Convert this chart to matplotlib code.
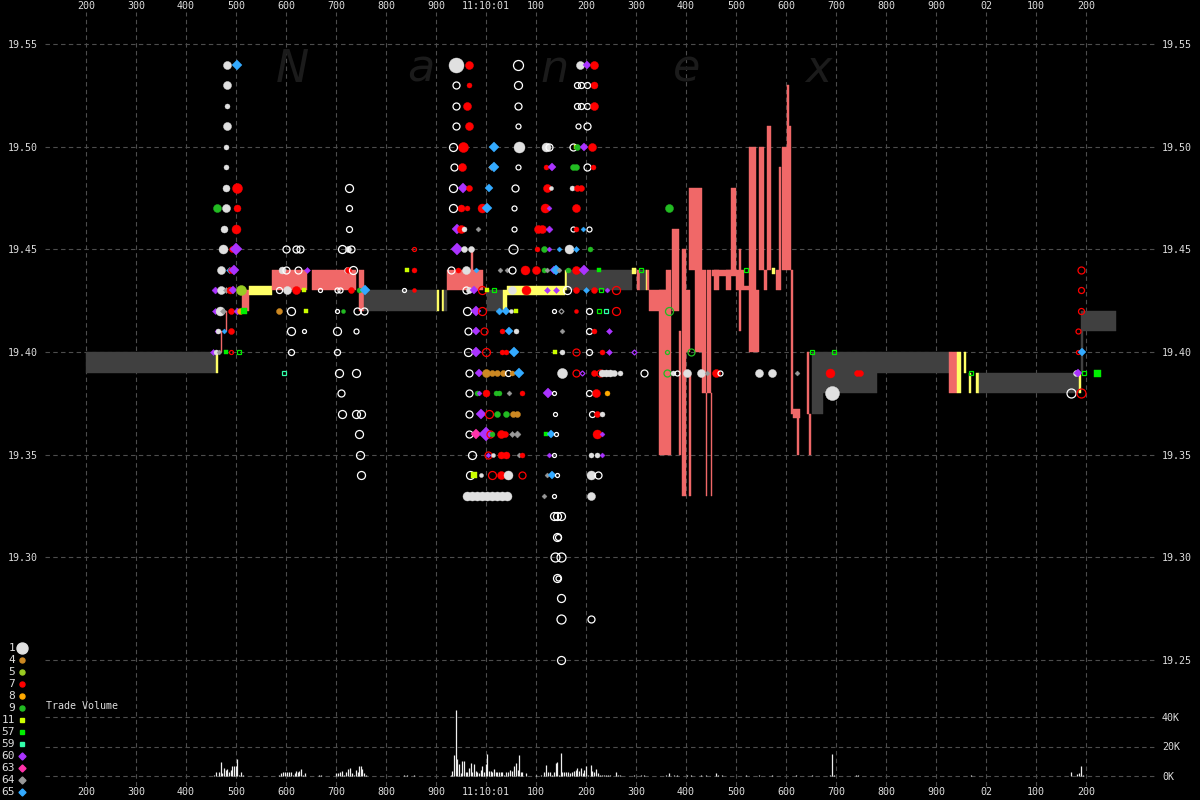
import matplotlib
matplotlib.use("Agg")
import matplotlib.pyplot as plt

# Tiempo en ms desde 11:10:00.000
x_ticks = list(range(200, 2300, 100))
x_labels = ['200', '300', '400', '500', '600', '700', '800', '900', '11:10:01',
            '100', '200', '300', '400', '500', '600', '700', '800', '900', '02',
            '100', '200']
price_ticks = [19.25, 19.30, 19.35, 19.40, 19.45, 19.50, 19.55]
vol_ticks = [0, 20000, 40000]
vol_labels = ['0K', '20K', '40K']
legend_codes = [1, 4, 5, 7, 8, 9, 11, 57, 59, 60, 63, 64, 65]

# Spread NBBO: (inicio ms, fin ms, precio bajo, precio alto, tipo) g=normal, r=cruzado, y=bloqueado
spread_segments = [
    (200, 460, 19.39, 19.40, 'g'), (460, 464, 19.39, 19.40, 'y'),
    (470, 472, 19.40, 19.41, 'r'), (480, 482, 19.41, 19.42, 'r'),
    (512, 526, 19.42, 19.43, 'r'), (526, 572, 19.428, 19.432, 'y'),
    (572, 642, 19.43, 19.44, 'r'), (652, 740, 19.43, 19.44, 'r'),
    (746, 756, 19.42, 19.44, 'r'), (756, 902, 19.42, 19.43, 'g'),
    (902, 906, 19.42, 19.43, 'y'), (912, 916, 19.42, 19.43, 'y'),
    (916, 922, 19.42, 19.43, 'g'), (922, 994, 19.43, 19.44, 'r'),
    (970, 974, 19.44, 19.449, 'r'), (1002, 1034, 19.42, 19.43, 'g'),
    (1034, 1042, 19.42, 19.43, 'y'), (1042, 1158, 19.428, 19.432, 'y'),
    (1158, 1162, 19.43, 19.44, 'y'), (1162, 1292, 19.43, 19.44, 'g'),
    (1292, 1300, 19.438, 19.441, 'y'), (1302, 1308, 19.43, 19.44, 'r'),
    (1308, 1320, 19.43, 19.44, 'g'), (1320, 1322, 19.43, 19.44, 'y'),
    (1322, 1326, 19.43, 19.44, 'r'),
    (1326, 1370, 19.42, 19.43, 'r'), (1346, 1370, 19.35, 19.43, 'r'),
    (1360, 1370, 19.43, 19.44, 'r'), (1372, 1386, 19.42, 19.46, 'r'),
    (1386, 1390, 19.35, 19.41, 'r'), (1392, 1400, 19.33, 19.45, 'r'),
    (1400, 1408, 19.40, 19.43, 'r'), (1406, 1410, 19.33, 19.39, 'r'),
    (1406, 1432, 19.44, 19.48, 'r'), (1418, 1432, 19.40, 19.44, 'r'),
    (1432, 1440, 19.38, 19.44, 'r'), (1442, 1450, 19.38, 19.44, 'r'),
    (1440, 1442, 19.33, 19.38, 'r'), (1450, 1452, 19.33, 19.38, 'r'),
    (1452, 1500, 19.437, 19.44, 'r'), (1456, 1460, 19.43, 19.44, 'r'),
    (1460, 1466, 19.43, 19.44, 'r'), (1480, 1490, 19.43, 19.44, 'r'),
    (1490, 1500, 19.44, 19.48, 'r'), (1500, 1516, 19.43, 19.44, 'r'),
    (1506, 1510, 19.41, 19.45, 'r'), (1516, 1526, 19.43, 19.432, 'r'),
    (1526, 1540, 19.43, 19.50, 'r'), (1526, 1546, 19.40, 19.43, 'r'),
    (1546, 1556, 19.44, 19.50, 'r'), (1556, 1562, 19.43, 19.44, 'r'),
    (1562, 1570, 19.44, 19.51, 'r'), (1572, 1578, 19.438, 19.441, 'y'),
    (1580, 1586, 19.43, 19.44, 'r'), (1586, 1590, 19.43, 19.49, 'r'),
    (1592, 1602, 19.44, 19.50, 'r'), (1602, 1606, 19.44, 19.53, 'r'),
    (1606, 1610, 19.44, 19.51, 'r'), (1610, 1614, 19.37, 19.44, 'r'),
    (1614, 1628, 19.368, 19.372, 'r'), (1622, 1626, 19.35, 19.37, 'r'),
    (1642, 1646, 19.37, 19.40, 'r'), (1646, 1650, 19.35, 19.37, 'r'),
    (1652, 1782, 19.38, 19.40, 'g'), (1652, 1674, 19.37, 19.38, 'g'),
    (1782, 1926, 19.39, 19.40, 'g'), (1926, 1942, 19.38, 19.40, 'r'),
    (1942, 1950, 19.38, 19.40, 'y'), (1956, 1960, 19.39, 19.40, 'y'),
    (1966, 1970, 19.38, 19.39, 'y'), (1980, 1986, 19.38, 19.39, 'y'),
    (1986, 2188, 19.38, 19.39, 'g'), (2186, 2190, 19.38, 19.39, 'y'),
    (2190, 2194, 19.39, 19.42, 'g'), (2194, 2260, 19.41, 19.42, 'g'),
]

# Operaciones por nivel de precio: (ms, bolsa, tamaño punto, hueco)
p1954 = [(482, 1, 8, 0), (502, 65, 9, 0), (940, 1, 15, 0), (966, 7, 8, 0), (1064, 1, 10, 1),
         (1188, 1, 8, 0), (1202, 60, 8, 0), (1216, 7, 8, 0)]
p1953 = [(482, 1, 8, 0), (940, 1, 7, 1), (966, 7, 5, 0), (1064, 1, 8, 1), (1182, 1, 6, 1),
         (1190, 1, 6, 1), (1202, 1, 6, 1), (1216, 7, 7, 0)]
p1952 = [(482, 1, 5, 0), (940, 1, 7, 1), (962, 7, 8, 0), (1064, 1, 7, 1), (1182, 1, 6, 1),
         (1190, 1, 6, 1), (1202, 1, 6, 1), (1216, 7, 8, 0)]
p1951 = [(482, 1, 8, 0), (940, 1, 7, 1), (966, 7, 8, 0), (1064, 1, 5, 1), (1184, 1, 5, 1),
         (1202, 1, 7, 1)]
p1950 = [(480, 1, 5, 0), (934, 1, 8, 1), (954, 7, 10, 0), (1016, 65, 9, 0), (1066, 1, 11, 0),
         (1120, 1, 9, 0), (1126, 1, 7, 1), (1174, 1, 7, 1), (1180, 11, 5, 0), (1182, 9, 6, 0),
         (1196, 60, 8, 0), (1212, 7, 8, 0)]
p1949 = [(480, 1, 5, 0), (936, 1, 7, 1), (952, 7, 8, 0), (1010, 64, 6, 0), (1016, 65, 9, 0),
         (1064, 1, 5, 1), (1120, 7, 5, 0), (1132, 60, 8, 0), (1174, 9, 6, 0), (1180, 9, 6, 0),
         (1202, 1, 7, 1), (1214, 7, 5, 0)]
p1948 = [(480, 1, 7, 0), (502, 7, 10, 0), (726, 1, 8, 1), (934, 1, 8, 1), (954, 60, 10, 0),
         (966, 7, 6, 0), (1006, 65, 8, 0), (1058, 1, 7, 1), (1122, 7, 8, 0), (1130, 1, 4, 0),
         (1172, 1, 5, 0), (1182, 7, 6, 0), (1190, 7, 6, 0)]
p1947 = [(462, 9, 8, 0), (480, 1, 8, 0), (502, 7, 7, 0), (726, 1, 6, 1), (934, 1, 8, 1),
         (950, 7, 7, 0), (962, 7, 5, 0), (992, 7, 9, 0), (1002, 65, 9, 0), (1056, 1, 5, 1),
         (1118, 7, 9, 0), (1126, 60, 5, 0), (1180, 7, 8, 0), (1366, 9, 8, 0)]
p1946 = [(476, 1, 7, 0), (500, 7, 9, 0), (726, 1, 6, 1), (942, 60, 10, 0), (950, 7, 8, 0),
         (956, 1, 5, 0), (984, 64, 5, 0), (1056, 1, 5, 1), (1104, 7, 8, 0), (1112, 7, 8, 0),
         (1126, 60, 7, 0), (1174, 1, 5, 1), (1180, 7, 5, 0), (1194, 65, 5, 0), (1206, 1, 5, 1)]
p1945 = [(474, 1, 9, 0), (492, 7, 6, 0), (500, 60, 12, 0), (600, 1, 7, 1), (620, 1, 7, 1),
         (628, 1, 7, 1), (712, 1, 8, 1), (724, 1, 6, 0), (730, 1, 7, 1), (856, 7, 4, 1),
         (942, 60, 12, 0), (956, 1, 6, 0), (970, 1, 6, 0), (1054, 1, 9, 1), (1102, 7, 5, 0),
         (1116, 9, 6, 0), (1126, 60, 5, 0), (1146, 65, 5, 0), (1166, 1, 9, 0), (1180, 65, 6, 0),
         (1208, 9, 5, 0)]
p1944 = [(470, 1, 8, 0), (486, 65, 6, 0), (490, 7, 6, 0), (496, 60, 9, 0), (592, 1, 7, 0),
         (600, 1, 7, 1), (624, 1, 7, 1), (642, 60, 6, 0), (722, 1, 6, 0), (724, 7, 6, 0),
         (734, 1, 8, 1), (842, 11, 5, 0), (856, 7, 5, 0), (930, 1, 7, 1), (944, 7, 5, 0),
         (960, 1, 8, 0), (980, 65, 5, 0), (1028, 64, 5, 0), (1042, 64, 5, 0), (1052, 1, 7, 1),
         (1078, 7, 9, 0), (1100, 7, 8, 0), (1116, 9, 5, 0), (1122, 64, 5, 0), (1136, 60, 8, 0),
         (1140, 65, 9, 0), (1146, 64, 5, 0), (1162, 64, 4, 0), (1164, 9, 5, 0), (1180, 7, 8, 0),
         (1196, 60, 9, 0), (1226, 57, 5, 0), (1310, 57, 5, 1), (1520, 57, 5, 1), (2190, 7, 7, 1)]
p1943 = [(458, 60, 7, 0), (470, 1, 8, 0), (480, 64, 6, 0), (488, 7, 7, 0), (494, 60, 8, 0),
         (510, 5, 10, 0), (586, 1, 6, 1), (602, 1, 8, 0), (620, 7, 8, 0), (636, 11, 5, 0),
         (668, 1, 4, 1), (702, 1, 5, 1), (708, 1, 5, 1), (730, 7, 6, 0), (746, 9, 5, 0),
         (758, 65, 9, 0), (836, 1, 4, 1), (856, 7, 4, 0), (960, 1, 7, 1), (966, 1, 6, 0),
         (976, 60, 8, 0), (992, 7, 8, 1), (1002, 11, 5, 0), (1016, 57, 5, 1), (1052, 1, 8, 0),
         (1080, 7, 9, 0), (1122, 60, 6, 0), (1140, 60, 6, 0), (1162, 1, 8, 1), (1180, 7, 6, 0),
         (1200, 65, 6, 0), (1216, 7, 6, 0), (1230, 57, 5, 1), (1242, 60, 5, 0), (1260, 7, 8, 1),
         (2190, 7, 6, 1)]
p1942 = [(458, 60, 6, 0), (468, 1, 9, 0), (474, 64, 6, 0), (490, 7, 6, 0), (502, 60, 7, 0),
         (508, 8, 6, 0), (516, 57, 6, 0), (586, 4, 6, 0), (610, 1, 8, 1), (640, 11, 5, 0),
         (702, 1, 4, 1), (714, 9, 4, 0), (742, 1, 7, 1), (756, 1, 7, 1), (962, 1, 8, 1),
         (980, 60, 10, 0), (992, 7, 8, 1), (1026, 65, 7, 0), (1040, 65, 8, 0), (1050, 1, 4, 0),
         (1060, 11, 5, 0), (1136, 1, 4, 1), (1150, 64, 5, 1), (1180, 7, 4, 0), (1206, 1, 6, 1),
         (1226, 57, 5, 1), (1240, 59, 5, 1), (1260, 7, 8, 1), (1366, 9, 8, 1), (2190, 7, 6, 1)]
p1941 = [(462, 60, 5, 0), (464, 1, 5, 0), (476, 65, 5, 0), (490, 7, 6, 0), (610, 1, 8, 1),
         (636, 1, 4, 1), (702, 1, 8, 1), (740, 1, 5, 1), (964, 1, 7, 1), (980, 60, 8, 0),
         (996, 7, 7, 1), (1032, 7, 5, 0), (1046, 65, 8, 0), (1060, 1, 5, 0), (1152, 64, 5, 0),
         (1206, 1, 6, 1), (1216, 7, 5, 0), (1246, 60, 6, 0), (2184, 7, 5, 1)]
p1940 = [(454, 60, 6, 0), (460, 1, 5, 0), (466, 64, 5, 0), (480, 57, 4, 0), (490, 7, 4, 1),
         (506, 57, 4, 1), (610, 1, 6, 1), (702, 1, 6, 1), (964, 1, 8, 1), (980, 60, 9, 0),
         (1000, 7, 8, 1), (1032, 7, 5, 0), (1040, 7, 5, 0), (1056, 65, 9, 0), (1138, 11, 5, 0),
         (1152, 1, 5, 0), (1180, 7, 7, 1), (1206, 1, 6, 1), (1232, 7, 5, 0), (1246, 60, 6, 0),
         (1296, 60, 5, 1), (1362, 9, 4, 1), (1410, 9, 7, 1), (1652, 57, 5, 1), (1696, 57, 5, 1),
         (2184, 7, 4, 1), (2192, 65, 8, 0)]
p1939 = [(596, 59, 4, 1), (706, 1, 8, 1), (740, 1, 8, 1), (966, 1, 7, 1), (986, 60, 8, 0),
         (1000, 4, 8, 0), (1012, 4, 6, 0), (1022, 4, 6, 0), (1034, 4, 6, 0), (1044, 1, 6, 1),
         (1052, 4, 5, 0), (1066, 65, 9, 0), (1152, 1, 10, 0), (1180, 7, 7, 1), (1192, 60, 5, 1),
         (1216, 7, 6, 0), (1228, 7, 7, 1), (1232, 1, 7, 0), (1240, 1, 7, 0), (1248, 1, 7, 0),
         (1256, 1, 6, 0), (1268, 1, 5, 0), (1316, 1, 7, 1), (1362, 9, 7, 1), (1374, 1, 5, 0),
         (1382, 1, 5, 1), (1402, 1, 8, 0), (1430, 1, 8, 0), (1442, 64, 5, 0), (1460, 7, 8, 0),
         (1468, 1, 5, 1), (1546, 1, 8, 0), (1572, 1, 8, 0), (1622, 64, 5, 0), (1688, 7, 9, 0),
         (1742, 7, 6, 0), (1748, 7, 6, 0), (1970, 57, 5, 1), (2180, 1, 6, 0), (2184, 60, 8, 0),
         (2196, 57, 5, 1), (2222, 57, 7, 0)]
p1938 = [(710, 1, 7, 1), (966, 1, 7, 1), (982, 9, 5, 0), (986, 60, 5, 0), (1000, 7, 7, 0),
         (1020, 9, 5, 0), (1026, 9, 5, 0), (1046, 64, 5, 0), (1072, 7, 5, 0), (1124, 60, 10, 0),
         (1136, 1, 4, 1), (1206, 1, 6, 1), (1220, 7, 8, 0), (1242, 8, 5, 0), (1692, 1, 14, 0),
         (2170, 1, 9, 1), (2190, 7, 9, 1)]
p1937 = [(712, 1, 8, 1), (740, 1, 8, 1), (750, 1, 8, 1), (966, 1, 7, 1), (990, 60, 9, 0),
         (1006, 7, 8, 1), (1022, 9, 6, 0), (1040, 9, 6, 0), (1054, 4, 6, 0), (1062, 4, 6, 0),
         (1138, 1, 4, 1), (1212, 1, 6, 1), (1222, 7, 6, 0), (1232, 1, 5, 0)]
p1936 = [(746, 1, 8, 1), (966, 1, 7, 1), (980, 63, 9, 0), (1000, 60, 14, 0), (1008, 7, 7, 1),
         (1012, 9, 5, 0), (1030, 7, 8, 0), (1038, 7, 6, 0), (1052, 64, 6, 0), (1062, 64, 7, 0),
         (1120, 57, 5, 0), (1130, 65, 8, 0), (1140, 1, 4, 1), (1222, 7, 9, 0), (1232, 60, 5, 0)]
p1935 = [(748, 1, 8, 1), (972, 1, 8, 1), (1004, 7, 7, 1), (1004, 60, 5, 0), (1014, 1, 4, 0),
         (1030, 7, 7, 0), (1040, 7, 7, 0), (1066, 64, 5, 0), (1072, 7, 5, 0), (1126, 60, 5, 0),
         (1136, 1, 4, 1), (1210, 1, 5, 0), (1222, 1, 5, 0), (1232, 60, 5, 0)]
p1934 = [(750, 1, 8, 1), (968, 1, 8, 1), (976, 11, 6, 0), (990, 1, 4, 0), (1012, 7, 8, 1),
         (1030, 7, 8, 0), (1044, 1, 9, 0), (1072, 7, 7, 1), (1122, 64, 5, 0), (1132, 65, 8, 0),
         (1142, 1, 4, 1), (1210, 1, 9, 0), (1224, 1, 7, 1)]
p1933 = [(962, 1, 9, 0), (972, 1, 9, 0), (982, 1, 9, 0), (992, 1, 9, 0), (1002, 1, 9, 0),
         (1012, 1, 9, 0), (1022, 1, 9, 0), (1032, 1, 9, 0), (1042, 1, 9, 0), (1116, 64, 5, 0),
         (1136, 1, 4, 1), (1210, 1, 8, 0)]
p1932 = [(1136, 1, 8, 1), (1142, 1, 8, 1), (1150, 1, 8, 1)]
p1931 = [(1142, 1, 8, 1), (1144, 1, 6, 1)]
p1930 = [(1138, 1, 9, 1), (1150, 1, 9, 1)]
p1929 = [(1142, 1, 8, 1), (1144, 1, 5, 1)]
p1928 = [(1150, 1, 8, 1)]
p1927 = [(1150, 1, 9, 1), (1210, 1, 7, 1)]
p1925 = [(1150, 1, 8, 1)]

trades_by_price = {
    19.54: p1954, 19.53: p1953, 19.52: p1952, 19.51: p1951, 19.50: p1950,
    19.49: p1949, 19.48: p1948, 19.47: p1947, 19.46: p1946, 19.45: p1945,
    19.44: p1944, 19.43: p1943, 19.42: p1942, 19.41: p1941, 19.40: p1940,
    19.39: p1939, 19.38: p1938, 19.37: p1937, 19.36: p1936, 19.35: p1935,
    19.34: p1934, 19.33: p1933, 19.32: p1932, 19.31: p1931, 19.30: p1930,
    19.29: p1929, 19.28: p1928, 19.27: p1927, 19.25: p1925,
}

# Volumen negociado (ms, miles de acciones)
volume_bars = [
    (456, 1), (460, 3), (466, 3), (470, 9.5), (472, 2), (476, 5.5), (480, 4), (482, 5),
    (486, 2.5), (490, 4), (492, 7), (496, 7), (500, 6.5), (502, 11.5), (506, 1), (510, 3), (514, 1),
    (586, 1), (590, 2), (594, 2.5), (598, 3), (602, 2.5), (606, 2.5), (610, 3), (614, 1), (618, 2),
    (620, 3.5), (624, 2.5), (626, 3.5), (630, 5), (634, 1), (638, 2), (666, 0.5), (670, 0.5),
    (700, 2), (704, 2), (708, 2.5), (712, 3.5), (716, 1), (720, 3), (724, 5), (728, 5.5), (732, 2),
    (736, 1), (740, 4), (744, 3), (746, 7), (750, 7), (752, 5), (756, 2), (760, 1),
    (836, 0.5), (842, 0.5), (856, 0.5),
    (930, 1), (932, 3.5), (936, 14), (940, 45), (942, 11.5), (946, 8), (950, 2), (952, 10),
    (956, 10), (960, 2.5), (962, 2.5), (966, 5.5), (970, 9), (972, 3), (976, 8), (980, 3.5),
    (982, 2.5), (986, 2), (990, 4), (992, 6.5), (996, 2.5), (1000, 8), (1002, 15), (1006, 3.5),
    (1010, 3.5), (1012, 3), (1016, 5), (1020, 2.5), (1022, 3), (1026, 2.5), (1030, 2.5),
    (1032, 2.5), (1036, 1), (1040, 3), (1044, 2.5), (1048, 4), (1052, 3.5), (1056, 6.5),
    (1060, 9), (1064, 4), (1066, 14), (1070, 2.5), (1072, 3), (1080, 2),
    (1100, 1), (1110, 1), (1116, 2.5), (1120, 7.5), (1124, 3), (1128, 2.5), (1132, 1), (1136, 3),
    (1140, 9), (1142, 9.5), (1146, 1), (1150, 15.5), (1152, 3), (1156, 2.5), (1160, 3),
    (1164, 2.5), (1168, 2), (1172, 2.5), (1176, 3.5), (1180, 4), (1182, 5.5), (1186, 3.5),
    (1190, 5.5), (1194, 2), (1196, 4), (1200, 7), (1204, 1), (1210, 7.5), (1212, 3.5), (1216, 3),
    (1220, 5), (1224, 2), (1228, 1), (1232, 1), (1236, 1), (1240, 1), (1244, 1), (1248, 0.7),
    (1260, 3), (1264, 0.7), (1268, 0.7),
    (1296, 0.5), (1310, 0.5), (1316, 0.5), (1360, 0.5), (1366, 2), (1376, 0.5), (1382, 0.5),
    (1402, 0.5), (1410, 1), (1430, 0.5), (1440, 0.5), (1460, 2), (1464, 0.5), (1472, 0.5),
    (1520, 0.5), (1546, 0.5), (1572, 0.5), (1620, 0.5), (1652, 0.5), (1688, 1), (1692, 15),
    (1696, 1), (1740, 0.5), (1744, 0.5), (1970, 0.5), (2170, 3), (2182, 1.5), (2186, 2),
    (2190, 6.5), (2194, 1),
]

# Estilo de cada bolsa: (marcador, color)
exch_style = {
    1: ('o', '#e0e0e0'), 4: ('o', '#cc8822'), 5: ('o', '#99cc22'), 7: ('o', '#ff0000'),
    8: ('o', '#ffaa00'), 9: ('o', '#22bb22'), 11: ('s', '#ccff00'), 57: ('s', '#00ee00'),
    59: ('s', '#33ffaa'), 60: ('D', '#aa33ff'), 63: ('D', '#ff33aa'), 64: ('D', '#999999'),
    65: ('D', '#33aaff'),
}
spread_colors = {'g': '#404040', 'r': '#f06868', 'y': '#ffff66'}
font = 'DejaVu Sans Mono'
txt_color = '#dddddd'


def marker_size(marker, d):
    # diametro en px -> tamaño en puntos
    ms = d * 0.72
    if marker == 'D':
        ms = ms / 1.414
    return ms


fig = plt.figure(figsize=(12, 8), dpi=100, facecolor='black')
ax = fig.add_axes([45 / 1200, 14 / 800, 1110 / 1200, 774 / 800])
ax.set_facecolor('black')
ax.set_xlim(118, 2338)
ax.set_ylim(19.25 - 126 / 2053, 19.55 + 32 / 2053)
ax.set_axisbelow(True)

# Marca de agua
for letra, fx in zip(['N', 'a', 'n', 'e', 'x'], [0.2225, 0.3387, 0.4595, 0.5784, 0.6964]):
    ax.text(fx, 0.9096, letra, transform=ax.transAxes, fontsize=32, style='italic',
            color='#1b1b1b', ha='center', va='baseline', zorder=1)

# Spread
for t0, t1, lo, hi, kind in spread_segments:
    c = spread_colors[kind]
    ax.bar(t0, hi - lo, width=t1 - t0, bottom=lo, align='edge',
           color=c, edgecolor=c, linewidth=0.3, zorder=2)

# Operaciones
for precio, filas in trades_by_price.items():
    for ms_t, ex, d, hueco in filas:
        mk, col = exch_style[ex]
        size = marker_size(mk, d)
        if hueco:
            edge = '#ffffff' if ex == 1 else col
            ax.plot(ms_t, precio, marker=mk, markersize=size, markerfacecolor='none',
                    markeredgecolor=edge, markeredgewidth=0.9, linestyle='none', zorder=3)
        else:
            ax.plot(ms_t, precio, marker=mk, markersize=size, markerfacecolor=col,
                    markeredgecolor=col, markeredgewidth=0.3, linestyle='none', zorder=3)

ax.set_xticks(x_ticks)
ax.set_xticklabels(x_labels, fontfamily=font)
ax.set_yticks(price_ticks)
# a la izquierda la leyenda ocupa el sitio de 19.25
ax.set_yticklabels(['' if p == 19.25 else '%.2f' % p for p in price_ticks], fontfamily=font)
ax.tick_params(axis='x', labeltop=True, labelbottom=True, top=False, bottom=False,
               length=0, pad=1, labelsize=7.2, labelcolor=txt_color)
ax.tick_params(axis='y', labelleft=True, labelright=False, left=False, right=False,
               length=0, pad=5, labelsize=7.2, labelcolor=txt_color)
for tk in ax.xaxis.get_major_ticks():
    tk.label2.set_fontfamily(font)
ax.grid(True, color='#4d4d4d', linestyle=(0, (4, 3)), linewidth=0.8)
for sp in ax.spines.values():
    sp.set_visible(False)

sec = ax.secondary_yaxis('right')
sec.set_yticks(price_ticks)
sec.set_yticklabels(['%.2f' % p for p in price_ticks], fontfamily=font)
sec.tick_params(axis='y', length=0, pad=5, labelsize=7.2, labelcolor=txt_color)
for sp in sec.spines.values():
    sp.set_visible(False)

# Volumen
axv = ax.twinx()
axv.set_ylim(-10 / 1.475 * 1000, (776 - 12) / 1.475 * 1000)
vol_t = [v[0] for v in volume_bars]
vol_q = [v[1] * 1000 for v in volume_bars]
axv.vlines(vol_t, 0, vol_q, colors='#eeeeee', linewidth=0.9, zorder=3)
axv.set_yticks(vol_ticks)
axv.set_yticklabels(vol_labels, fontfamily=font)
axv.tick_params(axis='y', right=False, length=0, pad=5, labelsize=7.2, labelcolor=txt_color)
axv.grid(True, axis='y', color='#4d4d4d', linestyle=(0, (4, 3)), linewidth=0.8)
for sp in axv.spines.values():
    sp.set_visible(False)
fig.text(46 / 1200, 1 - 706 / 800, 'Trade Volume', color=txt_color, fontsize=7.2,
         family=font, ha='left', va='center')

# Leyenda de bolsas
axl = fig.add_axes([0, 0, 1, 1])
axl.set_xlim(0, 1200)
axl.set_ylim(800, 0)
axl.axis('off')
for i, code in enumerate(legend_codes):
    y = 648 + 12 * i
    mk, col = exch_style[code]
    d = 11 if code == 1 else (7 if mk == 'D' else 5)
    axl.text(15, y, str(code), ha='right', va='center', color=txt_color,
             fontsize=8, family=font)
    axl.plot(22, y, marker=mk, markersize=marker_size(mk, d), color=col, linestyle='none')

fig.savefig('out.png', dpi=100, facecolor='black')
